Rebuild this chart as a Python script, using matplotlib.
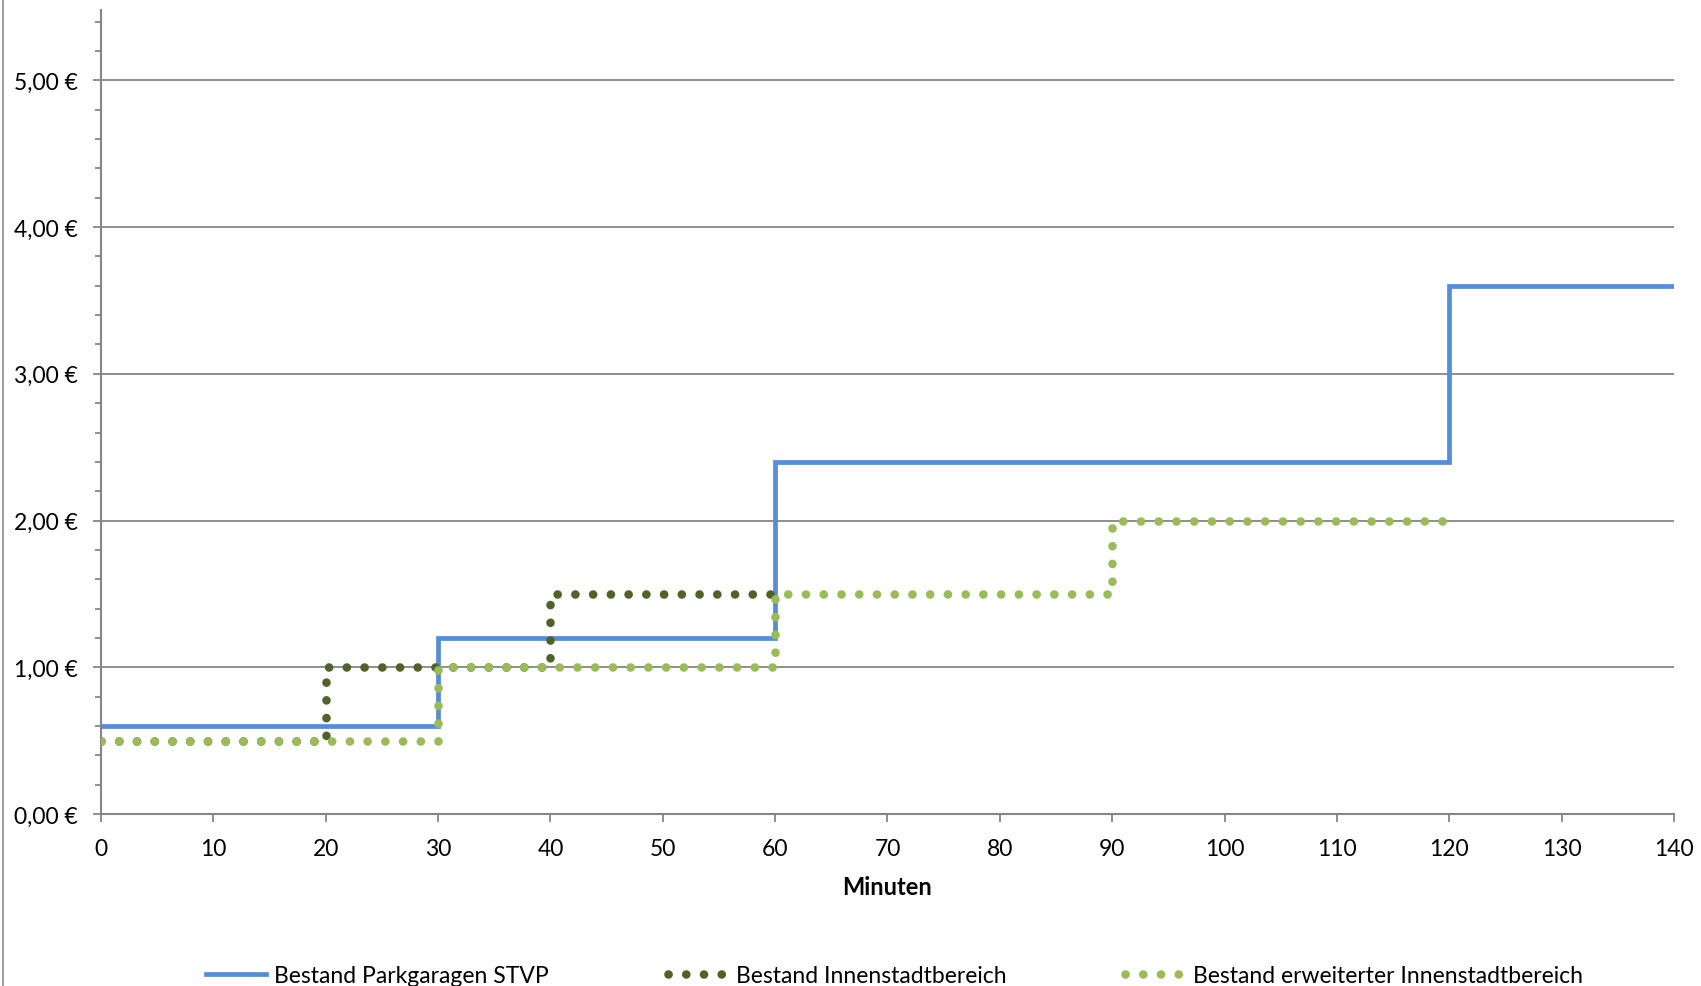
"""Parkgebühren: Bestand Parkgaragen vs. Straßenparken (Treppenfunktion)."""

import matplotlib.pyplot as plt
from matplotlib.lines import Line2D
from matplotlib.ticker import FuncFormatter, MultipleLocator

plt.rcParams["font.family"] = ["Lato", "DejaVu Sans"]

# Tarifstufen (Minuten -> Euro)
garage_min = [0, 30, 60, 120, 140]
garage_eur = [0.60, 1.20, 2.40, 3.60, 3.60]

innen_min = [0, 20, 40, 60]
innen_eur = [0.50, 1.00, 1.50, 1.50]

erweitert_min = [0, 30, 60, 90, 120]
erweitert_eur = [0.50, 1.00, 1.50, 2.00, 2.00]

labels = [
    "Bestand Parkgaragen STVP",
    "Bestand Innenstadtbereich",
    "Bestand erweiterter Innenstadtbereich",
]

BLUE = "#558ED5"
DARK_GREEN = "#4F6228"
LIGHT_GREEN = "#9BBB59"
GRID = "#868686"
FS = 16.5

fig = plt.figure(figsize=(17.01, 9.87), dpi=100)
ax = fig.add_axes([0.0594, 0.1743, 0.9247, 0.8146])

dot_lw = 6.2
dots = (0.01, 2.05)

ax.plot(garage_min, garage_eur, drawstyle="steps-post", color=BLUE, lw=3.4,
        solid_joinstyle="miter", label=labels[0], zorder=3)
l2, = ax.plot(innen_min, innen_eur, drawstyle="steps-post", color=DARK_GREEN, lw=dot_lw,
              dash_capstyle="round", label=labels[1], zorder=4)
l2.set_dashes(dots)
l3, = ax.plot(erweitert_min, erweitert_eur, drawstyle="steps-post", color=LIGHT_GREEN, lw=dot_lw,
              dash_capstyle="round", label=labels[2], zorder=5)
l3.set_dashes(dots)

ax.set_xlim(0, 140)
ax.set_ylim(0, 5.48)
ax.xaxis.set_major_locator(MultipleLocator(10))
ax.yaxis.set_major_locator(MultipleLocator(1))
ax.yaxis.set_minor_locator(MultipleLocator(0.2))
ax.yaxis.set_major_formatter(FuncFormatter(lambda v, _: f"{v:.2f}".replace(".", ",") + " €"))

ax.grid(axis="y", which="major", color=GRID, lw=1.3, zorder=1)
for side in ("top", "right"):
    ax.spines[side].set_visible(False)
for side in ("left", "bottom"):
    ax.spines[side].set_color(GRID)
    ax.spines[side].set_linewidth(1.5)

ax.tick_params(axis="y", which="major", length=6, width=1.3, color=GRID, pad=11, labelsize=FS)
ax.tick_params(axis="y", which="minor", length=4, width=1.3, color=GRID)
ax.tick_params(axis="x", which="major", length=6, width=1.3, color=GRID, pad=11, labelsize=FS)

ax.set_xlabel("Minuten", fontsize=FS + 0.5, fontweight="bold", labelpad=12)

leg = fig.legend(loc="center", bbox_to_anchor=(0.526, 0.011), ncol=3, frameon=False,
                 fontsize=FS, handlelength=2.6, handletextpad=0.35, columnspacing=5.2,
                 borderpad=0)

# linke Rahmenlinie des Diagrammbereichs
fig.add_artist(Line2D([0.002, 0.002], [0, 1], transform=fig.transFigure, color="#A0A0A0", lw=1.5))

fig.savefig("out.png", dpi=100)
